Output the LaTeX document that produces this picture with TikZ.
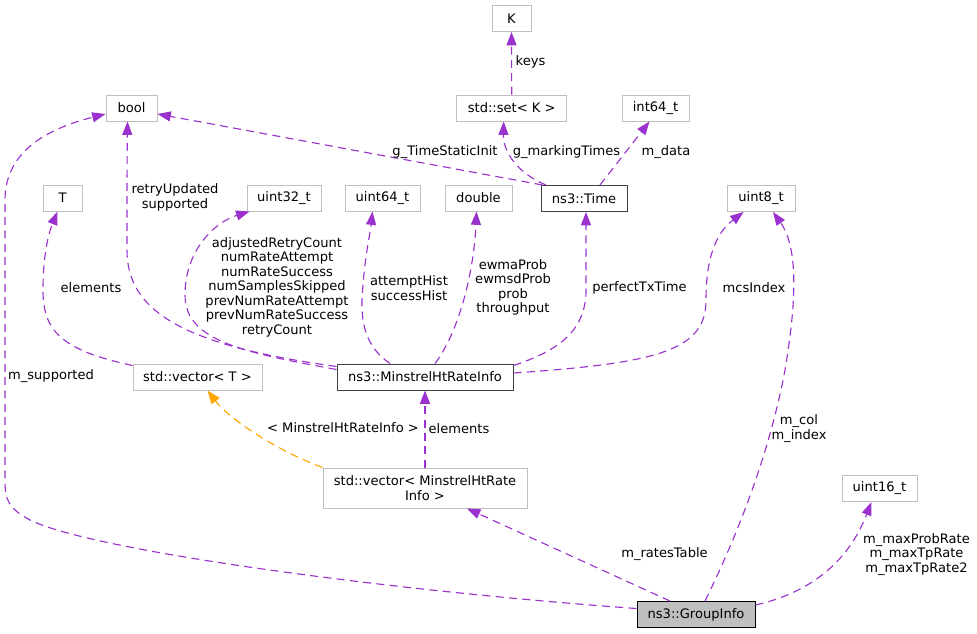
\documentclass[tikz,border=0pt]{standalone}
\usepackage{fontspec}
\setmainfont{DejaVu Sans}
\usetikzlibrary{arrows.meta,calc}
\definecolor{edgec}{HTML}{9A32CD}
\definecolor{orng}{HTML}{FFA500}
\definecolor{lgray}{HTML}{BFBFBF}
\definecolor{dgray}{HTML}{404040}
\newcommand{\fnt}{\fontsize{9.8pt}{10.9pt}\selectfont}
\tikzset{
  box/.style={draw=lgray, line width=0.75pt, fill=white, minimum height=19.5pt, inner sep=1pt, font=\fnt},
  cls/.style={box, draw=dgray},
  cur/.style={box, draw=black, fill=lgray},
  edge/.style={color=edgec, line width=0.85pt, dash pattern=on 6pt off 4pt, -{Triangle[length=10pt,width=7.5pt]}},
  oedge/.style={edge, color=orng},
  lbl/.style={font=\fnt, align=center, inner sep=0pt}
}
\begin{document}
\begin{tikzpicture}[x=0.75pt,y=-0.75pt]
\useasboundingbox (0,0) rectangle (977,633);
% nodes
\node[box, minimum width=29.25pt] (K) at (511.5,18.5) {K};
\node[box, minimum width=82.5pt] (set) at (511.7,108) {std::set< K >};
\node[box, minimum width=50.25pt] (i64) at (655.5,108) {int64\_t};
\node[box, minimum width=38.25pt] (bool) at (131.5,108) {bool};
\node[box, minimum width=29.25pt] (T) at (62.5,198) {T};
\node[box, minimum width=55.5pt] (u32) at (284,198) {uint32\_t};
\node[box, minimum width=56.25pt] (u64) at (382.5,198) {uint64\_t};
\node[box, minimum width=50.25pt] (dbl) at (478.5,198) {double};
\node[cls, minimum width=64.5pt] (time) at (584,198.5) {ns3::Time};
\node[box, minimum width=51pt] (u8) at (761,198.5) {uint8\_t};
\node[box, minimum width=96.75pt] (vecT) at (197.5,377) {std::vector< T >};
\node[cls, minimum width=132pt] (rate) at (425,377) {ns3::MinstrelHtRateInfo};
\node[box, minimum width=153pt, minimum height=30pt, align=center] (vecM) at (425,488) {std::vector< MinstrelHtRate\\Info >};
\node[box, minimum width=56.25pt] (u16) at (879.5,488.5) {uint16\_t};
\node[cur, minimum width=88.5pt] (grp) at (696,614.5) {ns3::GroupInfo};
% edges
\draw[edge] (set.north) -- (K.south);
\draw[edge] ($(time.north)+(-38,0)$) .. controls (515,172) and (503,150) .. ($(set.south)+(-8,0)$);
\draw[edge] ($(time.north)+(16,0)$) -- ($(i64.south)+(-6,0)$);
\draw[edge] ($(time.north west)+(2,0)$) -- ($(bool.east)+(0,6)$);
\draw[edge] ($(rate.north west)+(0,3)$) .. controls (180,345) and (127,310) .. (127,250) .. controls (127,200) and (127,160) .. ($(bool.south)+(-4,0)$);
\draw[edge] ($(rate.north west)+(0,6)$) .. controls (240,352) and (185,340) .. (185,295) .. controls (185,250) and (215,222) .. ($(u32.south west)+(3,0)$);
\draw[edge] ($(rate.north)+(-35,0)$) .. controls (370,350) and (361,330) .. (362,300) .. controls (364,260) and (370,235) .. ($(u64.south)+(-10,0)$);
\draw[edge] ($(rate.north)+(10,0)$) .. controls (460,330) and (474,270) .. ($(dbl.south)+(-2,0)$);
\draw[edge] ($(rate.north east)+(0,2)$) .. controls (560,350) and (586,330) .. (586,290) -- ($(time.south)+(2,0)$);
\draw[edge] ($(rate.east)+(0,-4)$) .. controls (660,363) and (706,350) .. (706,300) .. controls (706,250) and (720,230) .. ($(u8.south west)+(17,0)$);
\draw[edge] ($(vecT.north west)+(0,2)$) .. controls (60,350) and (43,330) .. (43,290) .. controls (43,250) and (50,230) .. ($(T.south)+(-5,0)$);
\draw[edge] (vecM.north) -- (rate.south);
\draw[oedge] (vecM.north west) .. controls (280,452) and (230,420) .. ($(vecT.south)+(10,0)$);
\draw[edge] ($(grp.north)+(-26,0)$) -- ($(vecM.south)+(42,0)$);
\draw[edge] ($(grp.north)+(9,0)$) .. controls (740,530) and (770,450) .. (785,370) .. controls (795,310) and (800,250) .. ($(u8.south)+(12,0)$);
\draw[edge] ($(grp.east)+(0,-9.5)$) .. controls (800,595) and (845,570) .. ($(u16.south)+(-8,0)$);
\draw[edge] ($(grp.west)+(0,-6)$) .. controls (380,590) and (90,550) .. (30,520) .. controls (8,508) and (5,500) .. (5,480) -- (5,200) .. controls (5,150) and (50,128) .. ($(bool.west)+(0,6)$);
% labels
\node[lbl] (lkeys) at (530.5,62) {keys};
\node[lbl] (lmark) at (566.5,152) {g\_markingTimes};
\node[lbl] (lstat) at (445,152) {g\_TimeStaticInit};
\node[lbl] (ldata) at (666,152) {m\_data};
\node[lbl] (lretry) at (175,197.5) {retryUpdated\\supported};
\node[lbl] (lelT) at (91,288) {elements};
\node[lbl] (lsup) at (51,376) {m\_supported};
\node[lbl] (lbig) at (277,287) {adjustedRetryCount\\numRateAttempt\\numRateSuccess\\numSamplesSkipped\\prevNumRateAttempt\\prevNumRateSuccess\\retryCount};
\node[lbl] (lhist) at (409,288) {attemptHist\\successHist};
\node[lbl] (lewma) at (513,287.5) {ewmaProb\\ewmsdProb\\prob\\throughput};
\node[lbl] (lperf) at (639.5,288) {perfectTxTime};
\node[lbl] (lmcs) at (754,288) {mcsIndex};
\node[lbl] (ltmpl) at (343,428) {< MinstrelHtRateInfo >};
\node[lbl] (lelM) at (459,429) {elements};
\node[lbl] (lrates) at (664.5,554) {m\_ratesTable};
\node[lbl] (lcol) at (799,428.5) {m\_col\\m\_index};
\node[lbl] (lmax) at (916.5,554.5) {m\_maxProbRate\\m\_maxTpRate\\m\_maxTpRate2};
\end{tikzpicture}
\end{document}
